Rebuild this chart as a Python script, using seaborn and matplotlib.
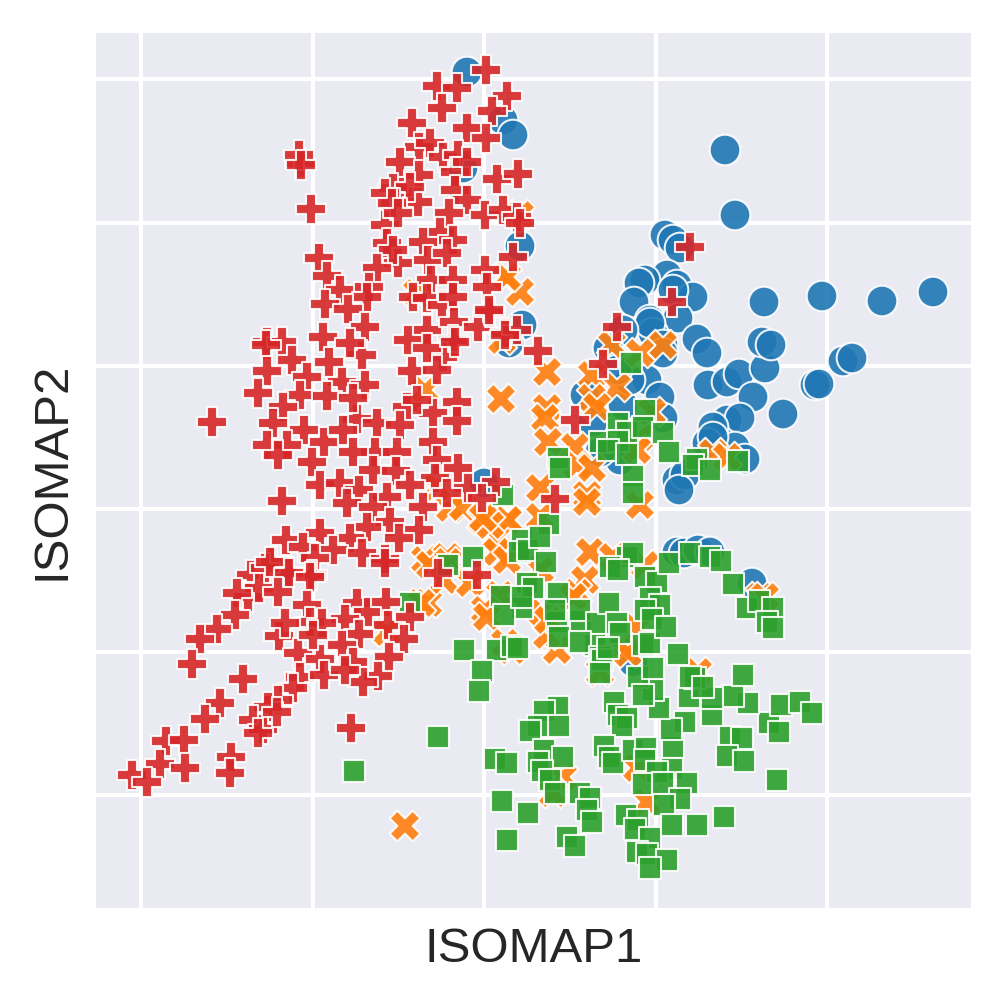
import pandas as pd
import matplotlib.pyplot as plt
import seaborn as sns

# embedding coordinates, arbitrary units, one list per class
class_a = [(467,72),(503,120),(513,135),(463,168),(520,246),(522,325),(509,343),(484,483),
    (665,235),(673,240),(680,248),(667,275),(645,280),(639,283),(677,285),(693,297),(634,302),(673,290),
    (650,320),(678,318),(653,333),(650,323),(697,339),(707,353),(623,330),(608,348),(663,345),(663,353),
    (708,385),(727,382),(739,374),(765,368),(753,397),(783,414),(764,302),(762,342),(771,345),(727,420),
    (740,418),(713,427),(707,443),(735,447),(745,459),(677,480),(685,475),(679,490),(647,380),(660,397),
    (663,418),(623,405),(585,395),(593,422),(630,380),(617,370),(620,460),(600,452),(713,437),
    (725,150),(735,215),(822,296),(882,301),(933,292),(815,385),(819,384),(843,361),(852,358),
    (677,552),(684,553),(698,550),(710,552),(752,583),(633,662)]

class_b = [(520,292),(505,277),(501,399),(547,372),(612,345),(663,345),(592,375),(640,353),(617,387),(592,398),
    (597,407),(547,408),(545,418),(548,442),(575,447),(577,465),(592,468),(540,488),(587,495),(640,505),
    (640,437),(637,450),(713,453),(727,457),(652,412),(502,340),(520,215),(507,277),(417,293),
    (425,390),(450,508),(463,507),(437,487),(507,520),(492,523),(482,520),(497,537),(425,560),
    (447,557),(508,520),(490,525),(483,518),(497,552),(507,560),(540,517),(590,552),(585,580),(577,593),
    (587,502),(430,565),(448,562),(428,603),(444,580),(470,583),(500,595),(485,610),(487,617),(505,643),
    (512,650),(557,650),(547,635),(543,613),(540,570),(573,597),(613,557),(645,565),(637,628),(623,647),
    (628,653),(600,672),(698,672),(760,597),(765,597),(563,777),(553,793),(637,768),(647,802),(405,826),
    (548,620),(421,603),(387,632)]

class_c = [(631,363),(645,410),(618,423),(627,432),(643,427),(663,433),(600,442),(618,441),(608,450),(627,454),
    (669,452),(697,459),(693,465),(710,470),(738,461),(558,458),(560,468),(633,476),(633,493),(503,495),
    (549,524),(522,540),(519,552),(528,550),(540,537),(546,562),(473,557),(448,565),(527,583),(533,588),
    (558,593),(501,596),(522,608),(504,615),(522,597),(557,622),(555,610),(559,637),(581,621),(580,610),
    (597,623),(609,603),(617,623),(620,633),(595,645),(580,642),(600,657),(602,660),(600,673),(608,648),
    (643,645),(650,643),(627,557),(633,553),(610,567),(618,570),(645,577),(657,582),(650,598),(660,605),
    (645,610),(652,619),(666,627),(669,563),(690,553),(710,557),(721,561),(733,584),(747,608),(759,601),
    (773,608),(767,622),(773,628),(678,654),(464,650),(497,650),(512,646),(518,648),(482,671),(479,691),
    (438,737),(495,759),(507,763),(502,801),(528,813),(507,840),(558,707),(544,711),(538,726),(559,726),
    (530,731),(544,750),(563,757),(538,762),(542,771),(550,780),(555,793),(580,793),(590,798),(587,810),
    (592,822),(567,837),(575,846),(614,702),(618,715),(627,718),(622,726),(604,746),(609,757),(613,763),
    (633,750),(646,748),(645,760),(673,747),(672,769),(657,772),(643,784),(663,783),(687,783),(680,799),
    (664,805),(626,815),(638,820),(635,829),(650,838),(637,852),(647,854),(667,860),(650,868),(672,825),
    (697,825),(724,817),(777,780),(730,737),(742,738),(727,756),(744,761),(769,723),(779,732),(781,705),
    (800,702),(812,713),(748,703),(733,696),(743,675),(712,715),(712,698),(685,722),(671,729),(659,708),
    (653,690),(638,677),(643,695),(689,697),(695,678),(690,677),(703,687),(653,668),(410,603),(354,771)]

class_d = [(486,70),(437,86),(457,88),(442,108),(507,96),(492,111),(467,128),(486,138),(412,123),(419,147),
    (430,143),(443,157),(458,155),(400,162),(419,175),(455,172),(467,162),(497,179),(518,174),(300,163),
    (299,155),(301,165),(311,209),(400,192),(393,188),(418,202),(410,187),(385,193),(392,203),(455,190),
    (467,200),(449,213),(485,215),(503,210),(517,217),(520,223),(385,225),(440,232),(453,240),(423,242),
    (398,213),(387,243),(398,263),(393,250),(377,268),(428,260),(447,253),(485,270),(513,257),(487,287),
    (319,258),(327,276),(340,290),(369,287),(367,297),(431,280),(453,280),(413,297),(427,298),(442,305),
    (453,297),(325,304),(348,309),(365,327),(323,337),(427,330),(454,322),(478,327),(490,312),(506,333),
    (517,330),(267,342),(282,342),(408,340),(453,340),(690,247),(489,310),(505,335),(538,351),(617,327),
    (672,302),(603,364),(575,420),(496,482),(555,499),(266,345),(292,360),(267,371),(329,362),(362,355),
    (350,343),(443,357),(427,348),(455,342),(412,371),(437,370),(307,377),(342,382),(365,385),(300,395),
    (258,393),(327,396),(283,407),(212,422),(273,423),(357,419),(377,423),(353,398),(304,430),(267,445),
    (287,445),(278,455),(324,442),(343,430),(407,407),(400,425),(433,413),(457,402),(457,421),(417,400),
    (433,442),(375,452),(397,452),(353,452),(312,462),(373,470),(396,471),(437,460),(458,468),(435,478),
    (468,488),(320,485),(340,483),(359,490),(387,497),(410,485),(447,493),(482,498),(347,503),(282,501),
    (423,507),(373,507),(390,522),(367,527),(419,530),(399,538),(350,538),(320,533),(286,540),(303,547),
    (333,550),(315,558),(362,553),(385,559),(272,562),(288,572),(251,575),(312,575),(438,573),(477,575),
    (265,568),(270,562),(289,573),(310,577),(385,563),(248,597),(259,588),(278,592),(237,593),(307,605),
    (310,622),(235,615),(217,629),(200,639),(279,636),(285,623),(192,664),(357,603),(368,612),(386,602),
    (345,619),(322,623),(388,625),(410,617),(359,634),(342,645),(404,639),(298,653),(320,659),(313,635),
    (353,662),(389,657),(378,676),(363,682),(300,677),(324,675),(345,670),(243,679),(293,688),(220,703),
    (278,700),(268,707),(205,719),(253,720),(263,729),(258,733),(277,712),(166,741),(184,740),(231,757),
    (160,764),(185,768),(132,775),(147,782),(230,773),(351,728)]

class_names = ["A", "B", "C", "D"]
x_ticks = [141, 312.5, 484, 655.5, 827]
y_ticks = [79, 223, 366, 509, 652, 795]

rows = []
for name, pts in zip(class_names, [class_a, class_b, class_c, class_d]):
    for px, py in pts:
        rows.append((px, py, name))
df = pd.DataFrame(rows, columns=["ISOMAP1", "ISOMAP2", "label"])

sns.set_theme(style="darkgrid")
plt.rcParams['font.family'] = ['Liberation Sans', 'DejaVu Sans']

fig, ax = plt.subplots(figsize=(1003 / 300, 1003 / 300), dpi=300)
sns.scatterplot(
    data=df, x="ISOMAP1", y="ISOMAP2",
    hue="label", style="label",
    hue_order=class_names, style_order=class_names,
    palette=["#1f77b4", "#ff7f0e", "#2ca02c", "#d62728"],
    s=54, alpha=0.9, linewidth=0.5, legend=False, ax=ax
)

# orientation of an embedding is arbitrary, values were read top down
ax.set_xlim(96, 971)
ax.set_ylim(908, 33)
ax.set_xticks(x_ticks)
ax.set_yticks(y_ticks)
ax.set_xticklabels([])
ax.set_yticklabels([])
ax.tick_params(length=0)
ax.set_xlabel("ISOMAP1", fontsize=11.8, labelpad=1)
ax.set_ylabel("ISOMAP2", fontsize=11.8, labelpad=1.7)
sns.despine(left=True, bottom=True)

fig.subplots_adjust(left=96 / 1003, right=971 / 1003, top=1 - 33 / 1003, bottom=1 - 908 / 1003)
plt.savefig("out.png", dpi=300)
